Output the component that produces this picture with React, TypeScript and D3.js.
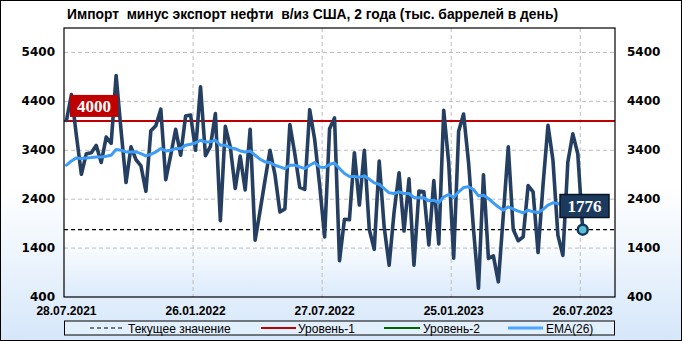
import React from "react";
import * as d3 from "d3";

const W = 682;
const H = 341;

const TITLE = "Импорт  минус экспорт нефти  в/из США, 2 года (тыс. баррелей в день)";
const xTickLabels = ["28.07.2021", "26.01.2022", "27.07.2022", "25.01.2023", "26.07.2023"];
const xTickIndex = [0, 26, 52, 78, 104];
const yTicks = [400, 1400, 2400, 3400, 4400, 5400];
const level1 = 4000;
const currentValue = 1776;

const values = [
  4010, 4540, 3700, 2910, 3330, 3350, 3500, 3150, 3670, 3540,
  4930, 3800, 2740, 3470, 3210, 3080, 2560, 3800, 3900, 4240,
  2800, 3300, 3830, 3300, 4100, 4120, 3400, 4700, 3290, 3480,
  4150, 1960, 3890, 3470, 2618, 3280, 2590, 3830, 1563, 2160,
  2790, 3400, 2900, 2140, 2200, 3925, 3330, 2640, 2600, 4230,
  3620, 2690, 1630, 3840, 4060, 1140, 1990, 1980, 3350, 2280,
  3400, 1780, 1375, 3178, 1830, 1050, 2140, 2940, 1750, 2815,
  1050, 2565, 2550, 1465, 2780, 1485, 4215, 3140, 1195, 3790,
  4140, 3150, 1785, 580, 2900, 1190, 1240, 710, 2070, 3470,
  1780, 1550, 1630, 2680, 2550, 1310, 2690, 3910, 3200, 1660,
  1250, 3160, 3735, 3330, 1776,
];

const ema26 = [
  3094, 3182, 3244, 3230, 3244, 3250, 3264, 3264, 3277, 3298,
  3414, 3400, 3366, 3366, 3366, 3332, 3284, 3318, 3366, 3434,
  3386, 3400, 3434, 3434, 3502, 3522, 3550, 3604, 3570, 3575,
  3604, 3502, 3502, 3454, 3434, 3386, 3366, 3386, 3298, 3216,
  3162, 3150, 3094, 3060, 3026, 3094, 3094, 3060, 3026, 3094,
  3150, 3060, 3046, 3108, 3140, 3026, 2924, 2865, 2865, 2850,
  2877, 2810, 2733, 2706, 2618, 2530, 2516, 2550, 2516, 2516,
  2434, 2427, 2427, 2366, 2380, 2326, 2448, 2496, 2434, 2550,
  2638, 2652, 2597, 2468, 2480, 2414, 2326, 2240, 2176, 2244,
  2196, 2155, 2120, 2176, 2142, 2128, 2190, 2278, 2326, 2312,
  2280, 2290, 2330, 2330, 2220,
];

const legendItems = ["Текущее значение", "Уровень-1", "Уровень-2", "EMA(26)"];

export default function App() {
  const left = 64, right = 615, top = 28, bottom = 297;
  const xCat = d3.scaleLinear().domain([0, 111]).range([left, right]);
  const xp = (i: number) => xCat(i + 0.5);
  const y = d3.scaleLinear().domain([400, 5900]).range([bottom, top]);

  const line = d3.line<number>().x((_, i) => xp(i)).y((d) => y(d));
  const lastI = values.length - 1;

  const yFont = "'DejaVu Sans', Verdana, sans-serif";
  const xFont = "'Liberation Sans', Arial, sans-serif";

  return (
    <svg width={W} height={H} style={{ position: "fixed", left: 0, top: 0, display: "block" }}>
      <defs>
        <linearGradient id="bgGrad" x1="0" y1="0" x2="0" y2="1">
          <stop offset="0" stopColor="#ffffff" />
          <stop offset="0.55" stopColor="#ffffff" />
          <stop offset="1" stopColor="#d6e7fa" />
        </linearGradient>
        <linearGradient id="plotGrad" x1="0" y1="0" x2="0" y2="1">
          <stop offset="0" stopColor="#ffffff" />
          <stop offset="0.78" stopColor="#ffffff" />
          <stop offset="1" stopColor="#dbeafb" />
        </linearGradient>
        <clipPath id="plotClip">
          <rect x={left} y={top} width={right - left} height={bottom - top} />
        </clipPath>
      </defs>
      <rect x={0.5} y={0.5} width={W - 1} height={H - 1} fill="url(#bgGrad)" stroke="#000" strokeWidth={1} />
      <text x={67} y={19} fontFamily={xFont} fontWeight="bold" fontSize={14} fill="#000"
        textLength={491} lengthAdjust="spacingAndGlyphs" style={{ whiteSpace: "pre" }}>{TITLE}</text>

      <rect x={left} y={top} width={right - left} height={bottom - top} fill="url(#plotGrad)" />

      {yTicks.filter((t) => t > 400).map((t) => (
        <line key={"gy" + t} x1={left} x2={right} y1={y(t)} y2={y(t)} stroke="#bdbdbd" strokeWidth={1} strokeDasharray="4,3" />
      ))}
      {xTickIndex.filter((i) => i > 0).map((i) => (
        <line key={"gx" + i} x1={xCat(i)} x2={xCat(i)} y1={top} y2={bottom} stroke="#bdbdbd" strokeWidth={1} strokeDasharray="4,3" />
      ))}

      <g clipPath="url(#plotClip)">
        <line x1={left} x2={right} y1={y(level1)} y2={y(level1)} stroke="#c00000" strokeWidth={2} />
        <line x1={left} x2={right} y1={y(currentValue)} y2={y(currentValue)} stroke="#000" strokeWidth={1.2} strokeDasharray="4,3" />
        <path d={line(values) || ""} fill="none" stroke="#243f61" strokeWidth={3.6} strokeLinejoin="round" strokeLinecap="round" />
        <path d={line(ema26) || ""} fill="none" stroke="#3d9cf5" strokeWidth={3} strokeLinejoin="round" strokeLinecap="round" />
      </g>

      <rect x={left} y={top} width={right - left} height={bottom - top} fill="none" stroke="#000" strokeWidth={1.2} />

      {yTicks.map((t) => (
        <g key={"yl" + t}>
          <text x={55} y={y(t) - 0.5} dy="0.36em" textAnchor="end" fontFamily={yFont} fontWeight="bold" fontSize={12} fill="#000">{t}</text>
          <text x={627} y={y(t) - 0.5} dy="0.36em" textAnchor="start" fontFamily={yFont} fontWeight="bold" fontSize={12} fill="#000">{t}</text>
        </g>
      ))}
      {xTickIndex.map((i, k) => (
        <text key={"xl" + i} x={xp(i)} y={314.5} textAnchor="middle" fontFamily={xFont} fontWeight="bold" fontSize={12} fill="#000">{xTickLabels[k]}</text>
      ))}

      <rect x={70} y={y(level1) - 26} width={48} height={22} fill="#c00000" />
      <text x={94} y={y(level1) - 9} textAnchor="middle" fontFamily="'Liberation Serif', 'DejaVu Serif', serif" fontWeight="bold" fontSize={17} fill="#fff">{level1}</text>

      <circle cx={xp(lastI)} cy={y(values[lastI])} r={5} fill="#5bbfd2" stroke="#17365d" strokeWidth={2.5} />
      <rect x={560} y={194.5} width={49} height={23} fill="#1b3a5e" stroke="#0a1424" strokeWidth={1.5} />
      <text x={584.5} y={212} textAnchor="middle" fontFamily="'Liberation Serif', 'DejaVu Serif', serif" fontWeight="bold" fontSize={17} fill="#fff">{currentValue}</text>

      <rect x={left + 0.5} y={321} width={right - left - 1} height={14} fill="#e2effc" stroke="#000" strokeWidth={1} />
      <line x1={90} x2={122} y1={328} y2={328} stroke="#000" strokeWidth={1.2} strokeDasharray="4,3" />
      <text x={128} y={332.5} fontFamily={xFont} fontSize={12} fill="#000">{legendItems[0]}</text>
      <line x1={261} x2={296} y1={328} y2={328} stroke="#c00000" strokeWidth={2} />
      <text x={298} y={332.5} fontFamily={xFont} fontSize={12} fill="#000">{legendItems[1]}</text>
      <line x1={384} x2={420} y1={328} y2={328} stroke="#006400" strokeWidth={2} />
      <text x={423} y={332.5} fontFamily={xFont} fontSize={12} fill="#000">{legendItems[2]}</text>
      <line x1={508} x2={543} y1={328} y2={328} stroke="#4da6ff" strokeWidth={3} />
      <text x={546} y={332.5} fontFamily={xFont} fontSize={12} fill="#000">{legendItems[3]}</text>
    </svg>
  );
}
